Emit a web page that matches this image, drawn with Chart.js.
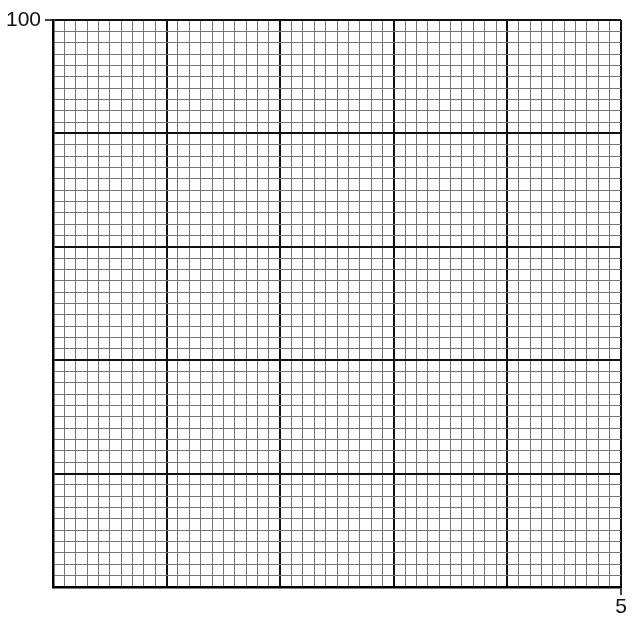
<!DOCTYPE html>
<html>
<head>
<meta charset="utf-8">
<script src="https://cdn.jsdelivr.net/npm/chart.js@4.4.0/dist/chart.umd.min.js"></script>
<style>
  html, body { margin: 0; padding: 0; background: #ffffff; }
  #wrap { width: 632px; height: 624px; position: relative; }
</style>
</head>
<body>
<div id="wrap"><canvas id="c"></canvas></div>
<script>
// Axis ranges and grid steps (data units)
const xRange = [0, 5];
const yRange = [0, 100];
const xMinorStep = 0.1;
const yMinorStep = 2;
const xMajorStep = 1;
const yMajorStep = 20;
// Labelled ticks
const xLabelValues = [5];
const xLabels = ['5'];
const yLabelValues = [100];
const yLabels = ['100'];
// No plotted series (blank graph paper)
const seriesPoints = [];

const near = (a, b) => Math.abs(a - b) < 1e-6;
const isMajor = (v, step) => near(v / step, Math.round(v / step));
const labelFor = (v, vals, labs) => {
  const i = vals.findIndex(t => near(t, v));
  return i >= 0 ? labs[i] : '';
};

const FONT = { family: '"Liberation Sans", Arial, Helvetica, sans-serif', size: 21 };

new Chart(document.getElementById('c'), {
  type: 'scatter',
  data: { datasets: [{ data: seriesPoints, pointRadius: 0 }] },
  options: {
    responsive: true,
    maintainAspectRatio: false,
    animation: false,
    events: [],
    layout: { padding: { top: 20, right: 11, left: 0, bottom: 0 } },
    plugins: { legend: { display: false }, tooltip: { enabled: false } },
    scales: {
      x: {
        type: 'linear',
        min: xRange[0], max: xRange[1],
        afterFit: s => { s.height = 37; },
        border: { display: true, color: '#000', width: 2.5 },
        grid: {
          drawTicks: true,
          tickLength: 8,
          tickWidth: 1.5,
          tickColor: c => labelFor(c.tick.value, xLabelValues, xLabels) !== '' ? '#000' : 'rgba(0,0,0,0)',
          color: c => isMajor(c.tick.value, xMajorStep) ? '#111' : '#757575',
          lineWidth: c => isMajor(c.tick.value, xMajorStep) ? 2 : 1
        },
        ticks: {
          stepSize: xMinorStep,
          maxTicksLimit: 1000,
          autoSkip: false,
          maxRotation: 0,
          minRotation: 0,
          padding: 0,
          color: '#111',
          font: FONT,
          callback: v => labelFor(v, xLabelValues, xLabels)
        }
      },
      y: {
        type: 'linear',
        min: yRange[0], max: yRange[1],
        afterFit: s => { s.width = 53; },
        border: { display: true, color: '#000', width: 2.5 },
        grid: {
          drawTicks: true,
          tickLength: 8,
          tickWidth: 1.5,
          tickColor: c => labelFor(c.tick.value, yLabelValues, yLabels) !== '' ? '#000' : 'rgba(0,0,0,0)',
          color: c => isMajor(c.tick.value, yMajorStep) ? '#111' : '#757575',
          lineWidth: c => isMajor(c.tick.value, yMajorStep) ? 2 : 1
        },
        ticks: {
          stepSize: yMinorStep,
          maxTicksLimit: 1000,
          autoSkip: false,
          padding: 4,
          color: '#111',
          font: FONT,
          callback: v => labelFor(v, yLabelValues, yLabels)
        }
      }
    }
  }
});
</script>
</body>
</html>
